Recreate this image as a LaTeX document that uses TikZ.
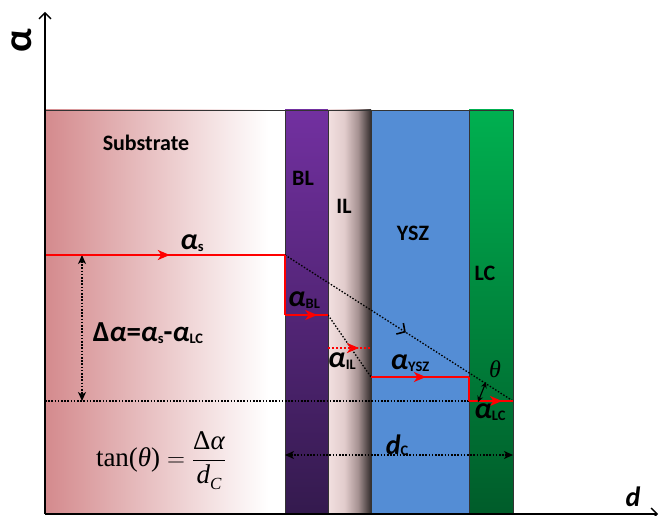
\documentclass[tikz,border=0pt]{standalone}
\usepackage{fontspec}
\setmainfont{Carlito}
\newfontfamily\tms{Liberation Serif}
\usetikzlibrary{arrows.meta,decorations.markings}
\definecolor{subL}{RGB}{212,138,141}
\definecolor{blT}{RGB}{114,48,160}
\definecolor{blB}{RGB}{52,26,78}
\definecolor{ilA}{RGB}{242,224,224}
\definecolor{ilB}{RGB}{226,204,204}
\definecolor{ilC}{RGB}{165,145,145}
\definecolor{ilD}{RGB}{50,44,44}
\definecolor{ysz}{RGB}{84,141,213}
\definecolor{lcT}{RGB}{0,176,80}
\definecolor{lcB}{RGB}{0,92,42}
\pgfdeclarehorizontalshading{ilshade}{100bp}{color(0bp)=(ilA); color(25bp)=(ilA); color(44bp)=(ilB); color(60bp)=(ilC); color(75bp)=(ilD); color(100bp)=(ilD)}
\newcommand\lbl[1]{{\fontsize{22}{26}\selectfont\bfseries #1}}
\newcommand\alp[1]{{\fontsize{30}{34}\selectfont\bfseries\itshape α}{\fontsize{14.5}{17}\selectfont\bfseries\raisebox{-2pt}{#1}}}
\tikzset{
  layer/.style={draw=black!80, line width=0.8pt},
  redline/.style={draw=red, line width=2pt},
  reddot/.style={draw=red, line width=2pt, dash pattern=on 2pt off 2pt},
  blkdot/.style={draw=black, line width=1.3pt, dash pattern=on 1.5pt off 1.7pt},
  midarr/.style={postaction={decorate}, decoration={markings, mark=at position #1 with {\arrow{Stealth[length=12pt,width=10pt,inset=3.5pt]}}}},
  midbarb/.style={postaction={decorate}, decoration={markings, mark=at position #1 with {\arrow[line width=1.6pt]{Straight Barb[length=6pt,width=13pt]}}}},
  dbl/.style={{Stealth[length=9pt,width=8pt,inset=2.5pt]}-{Stealth[length=9pt,width=8pt,inset=2.5pt]}},
  axis/.style={line width=1.3pt, -{Straight Barb[length=6pt,width=12pt]}},
  txt/.style={inner sep=0pt, outer sep=0pt}
}
\begin{document}
\begin{tikzpicture}[x=1pt,y=-1pt]
\useasboundingbox (0,0) rectangle (665,516);
% layers
\shade[left color=subL, right color=white] (45,110) rectangle (268,514);
\fill[white] (267.5,110) rectangle (285,514);
\draw[layer] (45,110) rectangle (285,514);
\shade[top color=blT, bottom color=blB] (285,110) rectangle (328,514);
\draw[layer] (285,110) rectangle (328,514);
\shade[shading=ilshade] (328,110) rectangle (371,514);
\draw[layer] (328,110) rectangle (371,514);
\fill[ysz] (371,110) rectangle (469,514);
\draw[layer] (371,110) rectangle (469,514);
\shade[top color=lcT, bottom color=lcB] (469,110) rectangle (513,514);
\draw[layer] (469,110) rectangle (513,514);
% coordinates
\coordinate (s0) at (45,255);
\coordinate (s1) at (285,255);
\coordinate (b0) at (285,315);
\coordinate (b1) at (328,315);
\coordinate (i0) at (328,348);
\coordinate (i1) at (371,348);
\coordinate (y0) at (371,377);
\coordinate (y1) at (469,377);
\coordinate (l0) at (469,401);
\coordinate (l1) at (513,401);
\coordinate (h0) at (45,401);
\coordinate (v0) at (82,255);
\coordinate (v1) at (82,401);
\coordinate (d0) at (285,455);
\coordinate (d1) at (513,455);
\coordinate (t0) at (486,382);
\coordinate (t1) at (478,402);
\coordinate (o) at (45,514);
\coordinate (ytip) at (45,12);
\coordinate (xtip) at (658,514);
% black dotted
\draw[blkdot] (h0) -- (l1);
\draw[blkdot, midbarb=0.53] (s1) -- (l1);
\draw[blkdot] (b1) -- (y0);
\draw[blkdot, dbl] (v0) -- (v1);
\draw[blkdot, dbl] (d0) -- (d1);
% red
\draw[redline, midarr=0.52] (s0) -- (s1);
\draw[redline] (s1) -- (b0);
\draw[redline, midarr=0.75] (b0) -- (b1);
\draw[reddot, midarr=0.72] (i0) -- (i1);
\draw[redline, midarr=0.56] (y0) -- (y1);
\draw[redline] (y1) -- (l0);
\draw[redline, midarr=0.75] (l0) -- (l1);
% theta arrow
\draw[line width=1.2pt, {Stealth[length=6pt,width=6pt]}-{Stealth[length=6pt,width=6pt]}] (t0) -- (t1);
% axes
\draw[axis] (o) -- (ytip);
\draw[axis] (o) -- (xtip);
% labels
\node[txt] (nsub) at (146,143) {\lbl{Substrate}};
\node[txt] (nbl) at (303,178) {\lbl{BL}};
\node[txt] (nil) at (344,206) {\lbl{IL}};
\node[txt] (nysz) at (413,233) {\lbl{YSZ}};
\node[txt] (nlc) at (485,273) {\lbl{LC}};
\node[txt] (as) at (192,243) {\alp{s}};
\node[txt] (abl) at (304,300) {\alp{BL}};
\node[txt] (ail) at (342,361) {\alp{IL}};
\node[txt] (aysz) at (410,363) {\alp{YSZ}};
\node[txt] (alc) at (490,412) {\alp{LC}};
\node[txt] (th) at (495,369) {\fontsize{24}{28}\selectfont\tms\itshape θ};
\node[txt] (dal) at (148,333) {{\fontsize{29}{34}\selectfont\bfseries Δ\itshape α\upshape=\itshape α}{\fontsize{14.5}{17}\selectfont\bfseries\raisebox{-2pt}{s}}{\fontsize{29}{34}\selectfont\bfseries -\itshape α}{\fontsize{14.5}{17}\selectfont\bfseries\raisebox{-2pt}{LC}}};
\node[txt] (dc) at (397,445) {{\fontsize{28}{32}\selectfont\bfseries\itshape d}{\fontsize{14.5}{17}\selectfont\bfseries\raisebox{-1pt}{C}}};
\node[txt] (dax) at (633,497) {\fontsize{28}{32}\selectfont\bfseries\itshape d};
\node[txt, rotate=90] (aax) at (22,41) {\fontsize{40}{46}\selectfont\bfseries α};
\node[txt, anchor=base west] (form) at (96,466) {\fontsize{27}{32}\selectfont\tms $\displaystyle \hbox{tan(\textit{θ})} = \frac{\hbox{Δ\textit{α}}}{\hbox{\textit{d}\raisebox{-0.25em}{\fontsize{17}{19}\selectfont\textit{C}}}}$};
\end{tikzpicture}
\end{document}
